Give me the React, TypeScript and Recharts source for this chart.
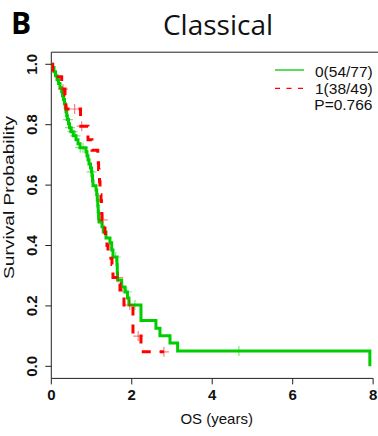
import React from "react";
import { ComposedChart, Line, Scatter, XAxis, YAxis, ReferenceLine } from "recharts";

// group 0 (green): event times (years) and survival after each step
const group0Times = [
  0, 0.03, 0.067, 0.104, 0.142, 0.179, 0.216, 0.258, 0.278, 0.303, 0.328, 0.348, 0.365, 0.383,
  0.398, 0.427, 0.452, 0.489, 0.547, 0.614, 0.663, 0.713, 0.862, 0.887, 0.912, 0.937, 0.974,
  0.999, 1.011, 1.024, 1.036, 1.111, 1.128, 1.143, 1.155, 1.165, 1.175, 1.185, 1.26, 1.292,
  1.359, 1.458, 1.501, 1.533, 1.632, 1.64, 1.647, 1.749, 1.831, 1.893, 1.93, 2.229, 2.601,
  2.701, 2.95, 3.14, 7.918,
];
const group0Surv = [
  1, 0.989, 0.975, 0.962, 0.949, 0.936, 0.922, 0.909, 0.896, 0.883, 0.869, 0.856, 0.843, 0.83,
  0.817, 0.803, 0.79, 0.777, 0.763, 0.75, 0.737, 0.724, 0.71, 0.697, 0.684, 0.67, 0.657, 0.644,
  0.631, 0.614, 0.598, 0.584, 0.568, 0.551, 0.531, 0.512, 0.492, 0.478, 0.462, 0.445, 0.425,
  0.409, 0.385, 0.362, 0.336, 0.309, 0.286, 0.263, 0.246, 0.226, 0.203, 0.152, 0.126, 0.101,
  0.077, 0.051, 0,
];
const group0Censor = [0.415, 0.465, 0.527, 0.6, 0.72, 0.788, 1.0, 1.6, 1.873, 2.08, 4.663];

// group 1 (red)
const group1Times = [
  0, 0.035, 0.166, 0.258, 0.278, 0.34, 0.358, 0.365, 0.727, 0.733, 0.912, 1.011, 1.155, 1.168,
  1.175, 1.185, 1.198, 1.21, 1.217, 1.235, 1.247, 1.252, 1.26, 1.309, 1.334, 1.347, 1.384,
  1.409, 1.416, 1.508, 1.52, 1.533, 1.682, 1.707, 1.732, 1.806, 2.03, 2.229, 2.8,
];
const group1Surv = [
  1, 0.98, 0.959, 0.939, 0.918, 0.898, 0.878, 0.852, 0.823, 0.795, 0.75, 0.715, 0.694, 0.674,
  0.652, 0.631, 0.611, 0.589, 0.568, 0.548, 0.526, 0.505, 0.485, 0.463, 0.442, 0.42, 0.4,
  0.379, 0.358, 0.337, 0.316, 0.294, 0.273, 0.253, 0.233, 0.203, 0.1, 0.048, 0.048,
];
const group1Censor = [0.29, 0.58, 0.755, 1.28, 1.66, 1.95, 2.16, 2.8];

const xTicks = [0, 2, 4, 6, 8];
const yTicks = [0, 0.2, 0.4, 0.6, 0.8, 1.0];
const legendLabels = ["0(54/77)", "1(38/49)"];
const pLabel = "P=0.766";

const GREEN = "#00cd00";
const RED = "#ff0000";
const AXIS = "#222";
const FONT = "'Liberation Sans', Arial, sans-serif";

const steps = (times: number[], surv: number[]) => times.map((t, i) => ({ t, s: surv[i] }));

function levelAt(times: number[], surv: number[], t: number) {
  let s = surv[0];
  for (let i = 0; i < times.length; i++) if (times[i] <= t) s = surv[i];
  return s;
}

const censorPoints = (c: number[], times: number[], surv: number[]) =>
  c.map((t) => ({ t, s: levelAt(times, surv, t) }));

const cross = (color: string) => (props: any) => {
  const { cx, cy } = props;
  return (
    <g stroke={color} strokeOpacity={0.5} strokeWidth={1.2}>
      <line x1={cx - 5} x2={cx + 5} y1={cy} y2={cy} />
      <line x1={cx} x2={cx} y1={cy - 5} y2={cy + 5} />
    </g>
  );
};

const XTick = (props: any) => (
  <text x={props.x} y={400} textAnchor="middle" fontFamily={FONT} fontWeight="bold" fontSize={15} fill="#111">
    {props.payload.value}
  </text>
);

const YTick = (props: any) => (
  <text
    transform={`translate(36.5, ${props.y}) rotate(-90)`}
    textAnchor="middle"
    fontFamily={FONT}
    fontWeight="bold"
    fontSize={15}
    fill="#111"
  >
    {Number(props.payload.value).toFixed(1)}
  </text>
);

export default function App() {
  const g0 = steps(group0Times, group0Surv);
  const g1 = steps(group1Times, group1Surv);
  const c0 = censorPoints(group0Censor, group0Times, group0Surv);
  const c1 = censorPoints(group1Censor, group1Times, group1Surv);

  return (
    <div style={{ position: "absolute", left: 0, top: 0, width: 378, height: 436, overflow: "hidden", background: "#fff" }}>
      <ComposedChart width={400} height={436} margin={{ top: 52.2, right: 18, bottom: 0, left: 0 }}>
        <XAxis
          type="number"
          dataKey="t"
          domain={[0, 8.22]}
          ticks={xTicks}
          allowDataOverflow
          axisLine={false}
          tickSize={6}
          tickLine={{ stroke: AXIS }}
          tick={<XTick />}
          height={57.6}
        />
        <YAxis
          type="number"
          dataKey="s"
          domain={[-0.04, 1.04]}
          ticks={yTicks}
          allowDataOverflow
          axisLine={false}
          tickSize={6}
          tickLine={{ stroke: AXIS }}
          tick={<YTick />}
          width={51.3}
        />
        <ReferenceLine y={1.04} stroke={AXIS} strokeWidth={1} />
        <ReferenceLine x={0} stroke={AXIS} strokeWidth={1} />
        <ReferenceLine
          segment={[{ x: 0, y: -0.04 }, { x: 8, y: -0.04 }]}
          stroke={AXIS}
          strokeWidth={1}
          ifOverflow="visible"
        />
        <Line data={g0} dataKey="s" type="stepAfter" stroke={GREEN} strokeWidth={3} dot={false} isAnimationActive={false} />
        <Line
          data={g1}
          dataKey="s"
          type="stepAfter"
          stroke={RED}
          strokeWidth={3}
          strokeDasharray="9 9"
          dot={false}
          isAnimationActive={false}
        />
        <Scatter data={c0} dataKey="s" shape={cross(GREEN)} isAnimationActive={false} />
        <Scatter data={c1} dataKey="s" shape={cross(RED)} isAnimationActive={false} />
      </ComposedChart>
      <svg width={378} height={436} style={{ position: "absolute", left: 0, top: 0, pointerEvents: "none" }}>
        <text x={11} y={33.5} fontFamily="'Open Sans', sans-serif" fontWeight="bold" fontSize={30} fill="#000">
          B
        </text>
        <text x={218} y={35} textAnchor="middle" fontFamily="'Open Sans', sans-serif" fontSize={28} fill="#111">
          Classical
        </text>
        <text x={216.7} y={424} textAnchor="middle" fontFamily={FONT} fontSize={15} fill="#111">
          OS (years)
        </text>
        <text
          transform="translate(14, 197.5) rotate(-90)"
          textAnchor="middle"
          fontFamily={FONT}
          fontSize={15}
          textLength={163}
          lengthAdjust="spacingAndGlyphs"
          fill="#111"
        >
          Survival Probability
        </text>
        <line x1={275} x2={304} y1={70} y2={70} stroke={GREEN} strokeWidth={1.3} />
        <line x1={275} x2={304} y1={88.3} y2={88.3} stroke={RED} strokeWidth={1.3} strokeDasharray="5 6.5" />
        <text x={315} y={77.3} fontFamily={FONT} fontSize={15.5} fill="#111">
          {legendLabels[0]}
        </text>
        <text x={315} y={93.6} fontFamily={FONT} fontSize={15.5} fill="#111">
          {legendLabels[1]}
        </text>
        <text x={314.3} y={110} fontFamily={FONT} fontSize={15.5} fill="#111">
          {pLabel}
        </text>
      </svg>
    </div>
  );
}
